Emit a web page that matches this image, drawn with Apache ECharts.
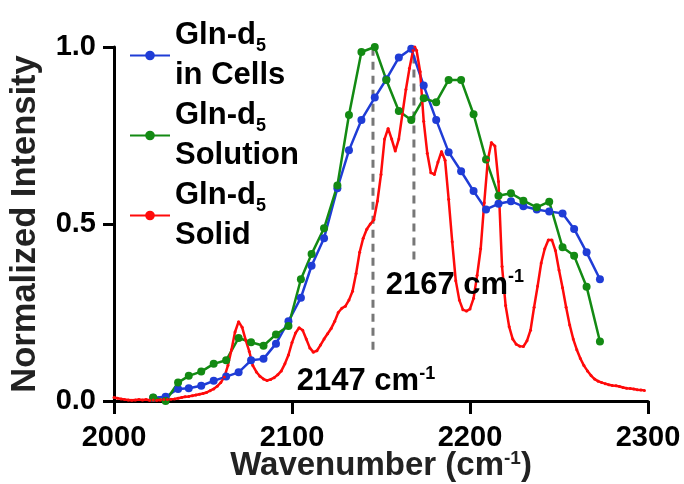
<!DOCTYPE html>
<html>
<head>
<meta charset="utf-8">
<script src="https://cdn.jsdelivr.net/npm/echarts@6/dist/echarts.min.js"></script>
<style>
  html, body { margin: 0; padding: 0; background: #fff; }
  #chart { width: 684px; height: 484px; }
</style>
</head>
<body>
<div id="chart"></div>
<script>
// shared x grid of the cell / solution spectra
const cellX = [2022, 2029, 2036, 2042, 2049, 2056, 2063, 2070, 2077, 2084, 2091, 2098, 2105, 2111, 2118,
  2125.5, 2132, 2139, 2146.5, 2153, 2160, 2167, 2174, 2181, 2188, 2195, 2202, 2209, 2216, 2223, 2230,
  2237.5, 2244.5, 2252, 2258.5, 2265.5, 2273]
const cellsY = [0.009, 0.012, 0.034, 0.036, 0.043, 0.057, 0.069, 0.081, 0.115, 0.119, 0.162, 0.225, 0.292,
  0.382, 0.46, 0.601, 0.708, 0.794, 0.857, 0.909, 0.97, 0.995, 0.891, 0.794, 0.703, 0.649, 0.593, 0.541,
  0.557, 0.564, 0.55, 0.541, 0.535, 0.53, 0.486, 0.42, 0.344]
const solutionY = [0.01, 0.0, 0.052, 0.071, 0.083, 0.105, 0.115, 0.178, 0.166, 0.156, 0.188, 0.212, 0.344,
  0.415, 0.488, 0.609, 0.808, 0.986, 1.0, 0.907, 0.819, 0.794, 0.855, 0.844, 0.907, 0.907, 0.81, 0.682,
  0.58, 0.587, 0.566, 0.547, 0.563, 0.434, 0.41, 0.323, 0.168]

const solidX = [2000, 2002, 2004, 2006, 2008, 2010, 2012, 2014, 2016, 2018, 2020, 2022, 2024, 2026, 2028,
  2030, 2032, 2034, 2036, 2038, 2040, 2042, 2044, 2046, 2048, 2050, 2052, 2054, 2056, 2058, 2060, 2062,
  2064, 2066, 2068, 2070, 2072, 2074, 2076, 2078, 2080, 2082, 2084, 2086, 2088, 2090, 2092, 2094, 2096,
  2098, 2100, 2102, 2104, 2106, 2108, 2110, 2112, 2114, 2116, 2118, 2120, 2122, 2124, 2126, 2128, 2130,
  2132, 2134, 2136, 2138, 2140, 2142, 2144, 2146, 2148, 2150, 2152, 2154, 2156, 2158, 2160, 2162, 2164,
  2166, 2168, 2169, 2170, 2172, 2174, 2176, 2178, 2180, 2182, 2184, 2186, 2188, 2190, 2192, 2194, 2196,
  2198, 2200, 2202, 2204, 2206, 2208, 2210, 2212, 2214, 2216, 2218, 2220, 2222, 2224, 2226, 2228, 2230,
  2232, 2234, 2236, 2238, 2240, 2242, 2244, 2246, 2248, 2250, 2252, 2254, 2256, 2258, 2260, 2262, 2264,
  2266, 2268, 2270, 2272, 2274, 2276, 2278, 2280, 2282, 2284, 2286, 2288, 2290, 2292, 2294, 2296, 2298]
const solidY = [0.01, 0.008, 0.006, 0.004, 0.003, 0.002, 0.003, 0.004, 0.003, 0.004, 0.002, 0.003, 0.002,
  0.003, 0.004, 0.004, 0.005, 0.006, 0.008, 0.01, 0.012, 0.013, 0.015, 0.017, 0.019, 0.021, 0.024, 0.029,
  0.034, 0.042, 0.052, 0.068, 0.1, 0.145, 0.195, 0.224, 0.208, 0.172, 0.14, 0.1, 0.082, 0.07, 0.062, 0.058,
  0.061, 0.066, 0.074, 0.085, 0.105, 0.13, 0.165, 0.192, 0.207, 0.2, 0.175, 0.15, 0.138, 0.142, 0.158,
  0.175, 0.19, 0.205, 0.225, 0.25, 0.262, 0.268, 0.285, 0.31, 0.36, 0.42, 0.46, 0.485, 0.5, 0.512, 0.565,
  0.64, 0.74, 0.77, 0.74, 0.706, 0.74, 0.81, 0.88, 0.94, 0.99, 1.0, 0.99, 0.93, 0.79, 0.7, 0.645, 0.64,
  0.675, 0.705, 0.68, 0.57, 0.45, 0.34, 0.285, 0.258, 0.254, 0.26, 0.29, 0.355, 0.43, 0.56, 0.68, 0.73,
  0.72, 0.62, 0.38, 0.27, 0.21, 0.175, 0.16, 0.155, 0.154, 0.17, 0.2, 0.265, 0.325, 0.39, 0.43, 0.455,
  0.455, 0.425, 0.37, 0.32, 0.265, 0.215, 0.175, 0.145, 0.12, 0.1, 0.085, 0.072, 0.062, 0.056, 0.052,
  0.049, 0.046, 0.044, 0.043, 0.041, 0.038, 0.036, 0.035, 0.034, 0.032, 0.031, 0.03]

// the two marked peaks: [position, lowest y of the dashed line]
const peakX = [2145.5, 2168.5]
const peakBottom = [0.145, 0.4]
const peakLabels = ['2147', '2167']

const xTicks = [2000, 2100, 2200, 2300]
const yTicks = [0.0, 0.5, 1.0]

const FONT = '"Liberation Sans", Arial, sans-serif'
const BLUE = '#1f3cd6'
const GREEN = '#138a13'
const RED = '#ff0a0a'

const chart = echarts.init(document.getElementById('chart'))

const pairs = (xs, ys) => xs.map((x, i) => [x, ys[i]])

const legendRich = {
  a: { fontFamily: FONT, fontWeight: 'bold', fontSize: 31, lineHeight: 40, color: '#000' },
  s: { fontFamily: FONT, fontWeight: 'bold', fontSize: 18, lineHeight: 30, color: '#000', verticalAlign: 'bottom' },
}
const supRich = {
  a: { fontFamily: FONT, fontWeight: 'bold', fontSize: 31, lineHeight: 34, color: '#000' },
  sup: { fontFamily: FONT, fontWeight: 'bold', fontSize: 18, lineHeight: 34, color: '#000', verticalAlign: 'top' },
}

function peakSeries(i) {
  return {
    name: 'peak' + i,
    type: 'line',
    data: [[peakX[i], peakBottom[i]], [peakX[i], 1.0]],
    symbol: 'none',
    lineStyle: { color: '#777', width: 3, type: [8, 6] },
    silent: true,
    z: 1,
    markPoint: {
      symbol: 'circle',
      symbolSize: 0,
      silent: true,
      data: [{
        coord: [peakX[i], peakBottom[i]],
        label: {
          show: true,
          position: 'bottom',
          formatter: '{a|' + peakLabels[i] + ' cm}{sup|-1}',
          rich: supRich,
          offset: i === 0 ? [-7, 10] : [41, 4],
        },
      }],
    },
  }
}

function spectrum(name, xs, ys, color, size, width) {
  return {
    name,
    type: 'line',
    data: pairs(xs, ys),
    symbol: 'circle',
    symbolSize: size,
    showAllSymbol: true,
    itemStyle: { color },
    lineStyle: { color, width },
    clip: false,
    z: 3,
  }
}

chart.setOption({
  animation: false,
  grid: { left: 114, right: 36, top: 47, bottom: 83, outerBoundsMode: 'none', containLabel: false },
  legend: {
    data: ['Gln-d5 in Cells', 'Gln-d5 Solution', 'Gln-d5 Solid'],
    orient: 'vertical',
    left: 124,
    top: 15,
    itemWidth: 40,
    itemHeight: 12,
    itemGap: 9,
    textStyle: { rich: legendRich },
    formatter: name => {
      const rest = name.replace('Gln-d5 ', '')
      return '{a|Gln-d}{s|5}\n{a|' + rest + '}'
    },
  },
  xAxis: {
    type: 'value',
    min: 2000,
    max: 2300,
    interval: 100,
    name: '{a|Wavenumber (cm}{sup|-1}{a|)}',
    nameLocation: 'middle',
    nameGap: 48,
    nameMoveOverlap: false,
    nameTextStyle: {
      rich: {
        a: { fontFamily: FONT, fontWeight: 'bold', fontSize: 33, color: '#222' },
        sup: { fontFamily: FONT, fontWeight: 'bold', fontSize: 19, color: '#222', verticalAlign: 'top', lineHeight: 34 },
      },
    },
    splitLine: { show: false },
    axisLine: { lineStyle: { color: '#000', width: 3 } },
    axisTick: { length: 13, lineStyle: { color: '#000', width: 3 } },
    axisLabel: {
      fontFamily: FONT, fontWeight: 'bold', fontSize: 29, color: '#000', margin: 22,
      formatter: v => (xTicks.includes(v) ? String(v) : ''),
    },
  },
  yAxis: {
    type: 'value',
    min: 0,
    max: 1,
    interval: 0.5,
    name: 'Normalized Intensity',
    nameLocation: 'middle',
    nameGap: 71,
    nameMoveOverlap: false,
    nameTextStyle: { fontFamily: FONT, fontWeight: 'bold', fontSize: 34.5, color: '#222' },
    splitLine: { show: false },
    axisLine: { show: true, lineStyle: { color: '#000', width: 3 } },
    axisTick: { show: true, length: 11, lineStyle: { color: '#000', width: 3 } },
    axisLabel: {
      fontFamily: FONT, fontWeight: 'bold', fontSize: 29, color: '#000', margin: 18,
      formatter: v => (yTicks.includes(v) ? v.toFixed(1) : ''),
    },
  },
  series: [
    peakSeries(0),
    peakSeries(1),
    spectrum('Gln-d5 in Cells', cellX, cellsY, BLUE, 8, 2.5),
    spectrum('Gln-d5 Solution', cellX, solutionY, GREEN, 8, 2.5),
    spectrum('Gln-d5 Solid', solidX, solidY, RED, 3, 2.5),
  ],
})

window.addEventListener('resize', () => chart.resize())
</script>
</body>
</html>
